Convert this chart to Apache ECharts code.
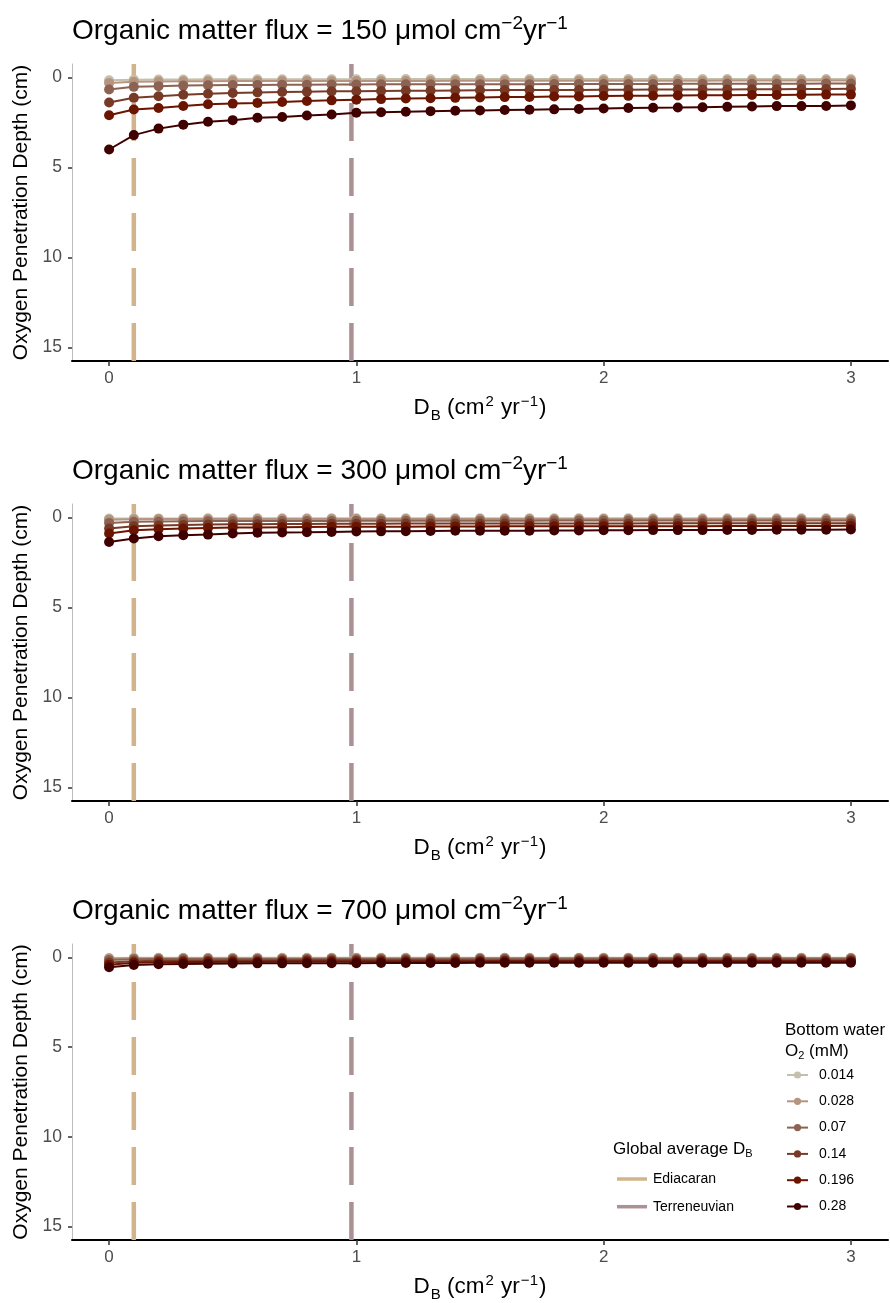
<!DOCTYPE html>
<html>
<head>
<meta charset="utf-8">
<script src="https://cdn.jsdelivr.net/npm/echarts@6/dist/echarts.min.js"></script>
<style>
  html, body { margin: 0; padding: 0; background: #fff; }
  #chart { width: 890px; height: 1303px; }
</style>
</head>
<body>
<div id="chart"></div>
<script>
// Bioturbation coefficient D_B (cm^2 yr^-1) at which each depth was computed
const dbValues = [0, 0.1, 0.2, 0.3, 0.4, 0.5, 0.6, 0.7, 0.8, 0.9, 1.0,
  1.1, 1.2, 1.3, 1.4, 1.5, 1.6, 1.7, 1.8, 1.9, 2.0,
  2.1, 2.2, 2.3, 2.4, 2.5, 2.6, 2.7, 2.8, 2.9, 3.0];

// Bottom water O2 levels (mM)
const o2Levels = ['0.014', '0.028', '0.07', '0.14', '0.196', '0.28'];

// Organic matter fluxes (umol cm^-2 yr^-1), one panel each
const fluxLevels = [150, 300, 700];

// Oxygen penetration depth (cm), flux = 150
const opd150_0014 = [0.15, 0.12, 0.11, 0.11, 0.10, 0.10, 0.10, 0.10, 0.10, 0.10, 0.10, 0.09, 0.09, 0.09, 0.09, 0.09, 0.09, 0.09, 0.09, 0.09, 0.09, 0.09, 0.09, 0.09, 0.09, 0.09, 0.09, 0.09, 0.09, 0.09, 0.09];
const opd150_0028 = [0.30, 0.24, 0.22, 0.21, 0.21, 0.20, 0.20, 0.20, 0.19, 0.19, 0.19, 0.19, 0.19, 0.19, 0.18, 0.18, 0.18, 0.18, 0.18, 0.18, 0.18, 0.18, 0.18, 0.18, 0.18, 0.17, 0.17, 0.17, 0.17, 0.17, 0.17];
const opd150_007 = [0.67, 0.52, 0.48, 0.45, 0.43, 0.42, 0.41, 0.40, 0.40, 0.39, 0.39, 0.38, 0.38, 0.38, 0.37, 0.37, 0.37, 0.37, 0.36, 0.36, 0.36, 0.36, 0.36, 0.35, 0.35, 0.35, 0.35, 0.35, 0.35, 0.34, 0.34];
const opd150_014 = [1.39, 1.13, 1.04, 0.96, 0.90, 0.86, 0.83, 0.81, 0.79, 0.77, 0.76, 0.75, 0.74, 0.73, 0.72, 0.71, 0.70, 0.70, 0.69, 0.69, 0.68, 0.68, 0.67, 0.67, 0.66, 0.66, 0.65, 0.65, 0.64, 0.64, 0.63];
const opd150_0196 = [2.10, 1.78, 1.69, 1.58, 1.49, 1.45, 1.41, 1.36, 1.31, 1.27, 1.23, 1.20, 1.17, 1.15, 1.13, 1.11, 1.09, 1.08, 1.06, 1.05, 1.03, 1.02, 1.01, 1.00, 0.99, 0.98, 0.97, 0.97, 0.96, 0.95, 0.95];
const opd150_028 = [4.00, 3.20, 2.84, 2.62, 2.46, 2.37, 2.24, 2.19, 2.11, 2.06, 1.96, 1.93, 1.90, 1.87, 1.85, 1.83, 1.81, 1.79, 1.77, 1.75, 1.72, 1.69, 1.68, 1.67, 1.65, 1.63, 1.61, 1.59, 1.59, 1.58, 1.55];

// Oxygen penetration depth (cm), flux = 300
const opd300_0014 = [0.06, 0.05, 0.05, 0.05, 0.04, 0.04, 0.04, 0.04, 0.04, 0.04, 0.04, 0.04, 0.04, 0.04, 0.04, 0.04, 0.04, 0.04, 0.04, 0.04, 0.04, 0.04, 0.04, 0.04, 0.04, 0.04, 0.04, 0.04, 0.04, 0.04, 0.04];
const opd300_0028 = [0.12, 0.10, 0.09, 0.09, 0.09, 0.08, 0.08, 0.08, 0.08, 0.08, 0.08, 0.08, 0.08, 0.08, 0.08, 0.08, 0.08, 0.08, 0.08, 0.08, 0.08, 0.08, 0.08, 0.08, 0.08, 0.08, 0.08, 0.08, 0.08, 0.08, 0.08];
const opd300_007 = [0.30, 0.24, 0.22, 0.21, 0.20, 0.20, 0.19, 0.19, 0.19, 0.19, 0.18, 0.18, 0.18, 0.18, 0.18, 0.18, 0.18, 0.18, 0.17, 0.17, 0.17, 0.17, 0.17, 0.17, 0.17, 0.17, 0.17, 0.17, 0.17, 0.17, 0.17];
const opd300_014 = [0.61, 0.48, 0.44, 0.41, 0.39, 0.38, 0.37, 0.36, 0.36, 0.35, 0.35, 0.35, 0.34, 0.34, 0.34, 0.34, 0.33, 0.33, 0.33, 0.33, 0.33, 0.33, 0.32, 0.32, 0.32, 0.32, 0.32, 0.32, 0.32, 0.32, 0.32];
const opd300_0196 = [0.89, 0.71, 0.65, 0.61, 0.58, 0.56, 0.55, 0.54, 0.53, 0.52, 0.52, 0.51, 0.51, 0.50, 0.50, 0.50, 0.49, 0.49, 0.49, 0.49, 0.48, 0.48, 0.48, 0.48, 0.48, 0.47, 0.47, 0.47, 0.47, 0.47, 0.46];
const opd300_028 = [1.36, 1.17, 1.04, 0.98, 0.95, 0.89, 0.85, 0.83, 0.82, 0.80, 0.78, 0.77, 0.76, 0.75, 0.74, 0.74, 0.73, 0.73, 0.72, 0.72, 0.71, 0.71, 0.70, 0.70, 0.70, 0.69, 0.69, 0.68, 0.68, 0.68, 0.67];

// Oxygen penetration depth (cm), flux = 700
const opd700_0014 = [0.03, 0.02, 0.02, 0.02, 0.02, 0.02, 0.02, 0.02, 0.02, 0.02, 0.02, 0.02, 0.02, 0.02, 0.02, 0.02, 0.02, 0.02, 0.02, 0.02, 0.02, 0.02, 0.02, 0.02, 0.02, 0.02, 0.02, 0.02, 0.02, 0.02, 0.02];
const opd700_0028 = [0.06, 0.04, 0.04, 0.04, 0.04, 0.04, 0.04, 0.04, 0.04, 0.03, 0.03, 0.03, 0.03, 0.03, 0.03, 0.03, 0.03, 0.03, 0.03, 0.03, 0.03, 0.03, 0.03, 0.03, 0.03, 0.03, 0.03, 0.03, 0.03, 0.03, 0.03];
const opd700_007 = [0.14, 0.10, 0.09, 0.09, 0.09, 0.08, 0.08, 0.08, 0.08, 0.08, 0.08, 0.08, 0.08, 0.08, 0.08, 0.07, 0.07, 0.07, 0.07, 0.07, 0.07, 0.07, 0.07, 0.07, 0.07, 0.07, 0.07, 0.07, 0.07, 0.07, 0.07];
const opd700_014 = [0.28, 0.21, 0.19, 0.18, 0.18, 0.17, 0.17, 0.17, 0.16, 0.16, 0.16, 0.16, 0.16, 0.16, 0.16, 0.16, 0.15, 0.15, 0.15, 0.15, 0.15, 0.15, 0.15, 0.15, 0.15, 0.15, 0.15, 0.15, 0.15, 0.15, 0.15];
const opd700_0196 = [0.40, 0.30, 0.27, 0.26, 0.25, 0.24, 0.24, 0.23, 0.23, 0.23, 0.22, 0.22, 0.22, 0.22, 0.22, 0.22, 0.21, 0.21, 0.21, 0.21, 0.21, 0.21, 0.21, 0.21, 0.21, 0.21, 0.21, 0.21, 0.21, 0.21, 0.21];
const opd700_028 = [0.55, 0.42, 0.38, 0.36, 0.35, 0.34, 0.33, 0.33, 0.32, 0.32, 0.32, 0.31, 0.31, 0.31, 0.31, 0.30, 0.30, 0.30, 0.30, 0.30, 0.30, 0.30, 0.29, 0.29, 0.29, 0.29, 0.29, 0.29, 0.29, 0.29, 0.29];

// Global average D_B reference values
const refNames = ['Ediacaran', 'Terreneuvian'];
const refDB = [0.1, 0.98];

// Tick labels
const xTicks = [0, 1, 2, 3];
const yTicks = [0, 5, 10, 15];

// ---- presentation ----
const panels = [
  [opd150_0014, opd150_0028, opd150_007, opd150_014, opd150_0196, opd150_028],
  [opd300_0014, opd300_0028, opd300_007, opd300_014, opd300_0196, opd300_028],
  [opd700_0014, opd700_0028, opd700_007, opd700_014, opd700_0196, opd700_028]
];
const o2Colors = ['#C4C0AC', '#B69580', '#8C6352', '#773A27', '#6B1500', '#400000'];
const refColors = ['#D2B48C', '#AD9093'];
const FONT = '"Liberation Sans", Arial, Helvetica, sans-serif';
const X_RANGE = [-0.15, 3.15];
const Y_RANGE = [-0.75, 15.75];
const PANEL_STEP = 440;

const grid = [], xAxis = [], yAxis = [], series = [], graphic = [];

fluxLevels.forEach((flux, i) => {
  const top = 64 + PANEL_STEP * i;
  grid.push({ left: 72, width: 816, top: top, height: 297 });

  xAxis.push({
    gridIndex: i, type: 'value', min: X_RANGE[0], max: X_RANGE[1],
    axisLine: { show: true, onZero: false, lineStyle: { color: '#000', width: 2 } },
    axisTick: { show: true, length: 5, customValues: xTicks, lineStyle: { color: '#333', width: 1.5 } },
    axisLabel: { customValues: xTicks, margin: 9, fontSize: 17, color: '#4d4d4d', fontFamily: FONT },
    splitLine: { show: false },
    name: '{a|D}{sub|B}{a| (cm}{sup|2}{a| yr}{sup|−1}{a|)}',
    nameLocation: 'middle', nameGap: 33,
    nameTextStyle: {
      fontFamily: FONT, color: '#000',
      rich: {
        a: { fontSize: 22.5, fontFamily: FONT, color: '#000', lineHeight: 27 },
        sub: { fontSize: 15, fontFamily: FONT, color: '#000', verticalAlign: 'bottom', lineHeight: 15, padding: [0, 0, -2, 1] },
        sup: { fontSize: 15, fontFamily: FONT, color: '#000', verticalAlign: 'top', lineHeight: 15, padding: [0, 1, 0, 1] }
      }
    }
  });

  yAxis.push({
    gridIndex: i, type: 'value', inverse: true, min: Y_RANGE[0], max: Y_RANGE[1],
    axisLine: { show: true, onZero: false, lineStyle: { color: '#bdbdbd', width: 1 } },
    axisTick: { show: true, length: 4, customValues: yTicks, lineStyle: { color: '#333', width: 1.5 } },
    axisLabel: { customValues: yTicks, margin: 10, fontSize: 17.5, color: '#4d4d4d', fontFamily: FONT },
    splitLine: { show: false },
    name: 'Oxygen Penetration Depth (cm)',
    nameLocation: 'middle', nameGap: 40,
    nameTextStyle: { fontSize: 21, color: '#000', fontFamily: FONT }
  });

  // vertical reference lines for global average D_B
  refDB.forEach((v, k) => {
    series.push({
      type: 'line', name: refNames[k], xAxisIndex: i, yAxisIndex: i,
      data: [[v, Y_RANGE[1]], [v, Y_RANGE[0]]],
      symbol: 'none', silent: true, z: 1,
      itemStyle: { color: refColors[k] },
      lineStyle: { color: refColors[k], width: 4.5, type: [38, 17] }
    });
  });

  // one line per bottom water O2 level
  panels[i].forEach((vals, j) => {
    series.push({
      type: 'line', name: o2Levels[j], xAxisIndex: i, yAxisIndex: i,
      data: dbValues.map((x, k) => [x, vals[k]]),
      symbol: 'circle', symbolSize: 10, showSymbol: true, z: 3 + j,
      itemStyle: { color: o2Colors[j] },
      lineStyle: { color: o2Colors[j], width: 2 }
    });
  });

  graphic.push({
    type: 'text', x: 72, y: top - 33,
    style: {
      text: '{a|Organic matter flux = ' + flux + ' μmol cm}{sup|−2}{a|yr}{sup|−1}',
      verticalAlign: 'middle',
      rich: {
        a: { fontSize: 28, fontFamily: FONT, fill: '#000', lineHeight: 34 },
        sup: { fontSize: 19, fontFamily: FONT, fill: '#000', verticalAlign: 'top', lineHeight: 17 }
      }
    }
  });
});

// legend titles
graphic.push({
  type: 'text', x: 785, y: 1030,
  style: { text: 'Bottom water', verticalAlign: 'middle', fontSize: 17, fontFamily: FONT, fill: '#000' }
});
graphic.push({
  type: 'text', x: 785, y: 1051,
  style: {
    text: '{a|O}{sub|2}{a| (mM)}', verticalAlign: 'middle',
    rich: {
      a: { fontSize: 17, fontFamily: FONT, fill: '#000', lineHeight: 20 },
      sub: { fontSize: 11, fontFamily: FONT, fill: '#000', verticalAlign: 'bottom', lineHeight: 11 }
    }
  }
});
graphic.push({
  type: 'text', x: 613, y: 1149,
  style: {
    text: '{a|Global average D}{sub|B}', verticalAlign: 'middle',
    rich: {
      a: { fontSize: 17, fontFamily: FONT, fill: '#000', lineHeight: 20 },
      sub: { fontSize: 11, fontFamily: FONT, fill: '#000', verticalAlign: 'bottom', lineHeight: 11 }
    }
  }
});

const option = {
  animation: false,
  backgroundColor: '#fff',
  grid: grid,
  xAxis: xAxis,
  yAxis: yAxis,
  series: series,
  graphic: graphic,
  legend: [
    {
      data: o2Levels, orient: 'vertical', left: 786, top: 1067, padding: 0,
      itemWidth: 21, itemHeight: 9, itemGap: 10.3, selectedMode: false,
      lineStyle: { width: 2 },
      textStyle: { fontSize: 14, fontFamily: FONT, color: '#000', lineHeight: 16, padding: [0, 0, 0, 6] }
    },
    {
      data: refNames, orient: 'vertical', left: 617, top: 1171, padding: 0,
      icon: 'rect', itemWidth: 30, itemHeight: 3.5, itemGap: 11.7, selectedMode: false,
      textStyle: { fontSize: 14, fontFamily: FONT, color: '#000', lineHeight: 16, padding: [0, 0, 0, 1] }
    }
  ]
};

const chart = echarts.init(document.getElementById('chart'), null, { renderer: 'canvas' });
chart.setOption(option);
</script>
</body>
</html>
